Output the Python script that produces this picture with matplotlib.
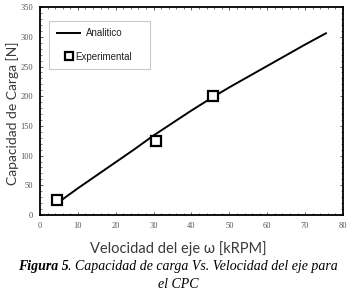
import matplotlib.pyplot as plt
from matplotlib.ticker import MultipleLocator

# Analytic curve
vel_analitico = [5, 10, 15, 20, 25, 30, 35, 40, 45, 50, 55, 60, 65, 70, 75.5]
carga_analitico = [22, 45, 67, 89, 111, 134, 155, 176, 196, 215, 233, 251, 269, 287, 306]

# Experimental points
vel_exp = [4.5, 30.5, 45.7]
carga_exp = [25, 125, 200]

fig = plt.figure(figsize=(3.56, 2.94), dpi=100)
ax = fig.add_axes([0.1124, 0.2687, 0.851, 0.707])

ax.plot(vel_analitico, carga_analitico, color="black", lw=1.4, label="Analitico")
ax.plot(vel_exp, carga_exp, ls="none", marker="s", ms=7, mfc="white",
        mec="black", mew=1.6, label="Experimental")

ax.set_xlim(0, 80)
ax.set_ylim(0, 350)
ax.xaxis.set_major_locator(MultipleLocator(10))
ax.xaxis.set_minor_locator(MultipleLocator(2))
ax.yaxis.set_major_locator(MultipleLocator(50))
ax.yaxis.set_minor_locator(MultipleLocator(10))
ax.tick_params(which="both", direction="in", top=True, right=True,
               colors="#444444", labelcolor="#555555")
ax.tick_params(which="major", length=2.5, width=0.6, labelsize=6, pad=5)
ax.tick_params(which="minor", length=1.5, width=0.5)
for lab in ax.get_xticklabels() + ax.get_yticklabels():
    lab.set_family("Liberation Serif")
for s in ax.spines.values():
    s.set_linewidth(1.3)

ax.set_ylabel("Capacidad de Carga [N]", family="Lato", fontsize=10,
              color="#3a3a3a")
ax.yaxis.set_label_coords(-0.07, 0.49)

leg = ax.legend(loc="upper left", bbox_to_anchor=(0.03, 0.935), frameon=True,
                fancybox=False, prop={"family": "Liberation Sans", "size": 7},
                handlelength=2.4, handletextpad=0.6, borderpad=0.8,
                labelspacing=1.35, borderaxespad=0)
leg.get_frame().set_edgecolor("#bbbbbb")
leg.get_frame().set_linewidth(0.8)
for t in leg.get_texts():
    t.set_color("#222222")
# the experimental label sits right next to its marker in the original
leg.get_texts()[1].set_x(-11)
leg.get_lines()[1].set_markersize(6)

fig.text(0.5, 0.155, "Velocidad del eje \u03c9 [kRPM]", ha="center", va="center",
         family="Lato", fontsize=10.5, color="#3a3a3a")

# Caption: bold-italic "Figura 5" followed by italic text, centered
cap_y1 = 0.095
t1 = fig.text(0, cap_y1, "Figura 5", family="Liberation Serif", style="italic",
              weight="bold", fontsize=10, va="center")
t2 = fig.text(0, cap_y1, ". Capacidad de carga Vs. Velocidad del eje para",
              family="Liberation Serif", style="italic", fontsize=10, va="center")
fig.canvas.draw()
r = fig.canvas.get_renderer()
w1 = t1.get_window_extent(r).width / fig.bbox.width
w2 = t2.get_window_extent(r).width / fig.bbox.width
x0 = 0.5 - (w1 + w2) / 2
t1.set_x(x0)
t2.set_x(x0 + w1)
fig.text(0.5, 0.034, "el CPC", family="Liberation Serif", style="italic",
         fontsize=10, ha="center", va="center")

fig.savefig("out.png", dpi=100)
